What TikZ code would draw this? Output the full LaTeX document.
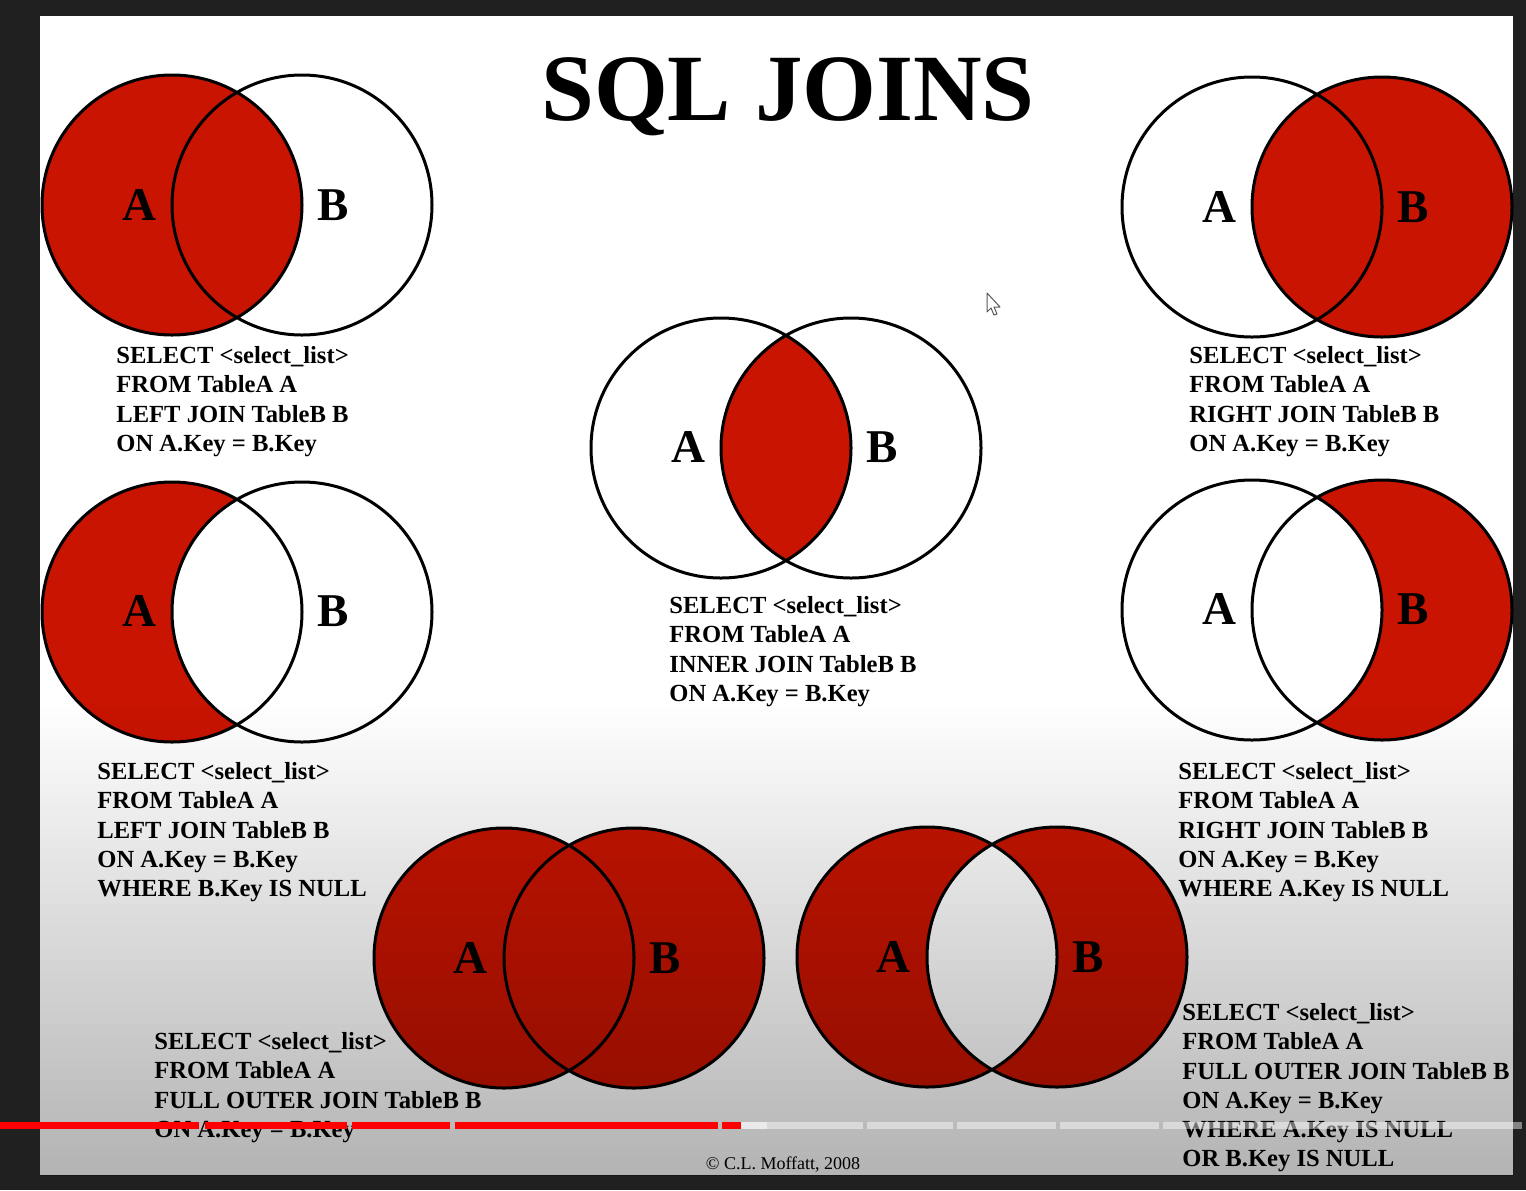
\documentclass[tikz,border=0pt]{standalone}
\usepackage{fontspec}
\setmainfont{Liberation Serif}
\usetikzlibrary{fadings}
\definecolor{jr}{RGB}{200,20,0}
\definecolor{outerbg}{RGB}{32,32,32}
\tikzfading[name=slidefade, top color=transparent!100, bottom color=transparent!70]
\tikzset{
  ring/.style={draw=black, line width=1.5pt},
  redfill/.style={fill=jr},
  setlabel/.style={font=\fontsize{23.5}{24}\selectfont\bfseries, inner sep=0pt},
  code/.style={font=\fontsize{12.3}{14.65}\selectfont\bfseries, align=left, anchor=north west, inner sep=0pt},
  barred/.style={fill=red},
  bargray/.style={fill=white, fill opacity=0.45}
}
\begin{document}
\begin{tikzpicture}[x=0.5pt, y=-0.5pt]
\useasboundingbox (0,0) rectangle (1526,1190);
\fill[outerbg] (0,0) rectangle (1526,1190);
\fill[white] (40,16) rectangle (1513,1175);

% title
\node[font=\fontsize{47.5}{50}\selectfont\bfseries, anchor=base, inner sep=0pt] (title) at (788,120) {SQL JOINS};

% 1 LEFT JOIN
\fill[redfill] (172,205) circle[radius=130];
\draw[ring] (172,205) circle[radius=130] (302,205) circle[radius=130];
\node[setlabel] (a1) at (139,205) {A};
\node[setlabel] (b1) at (333,205) {B};
\node[code] (q1) at (116,346) {SELECT <select\_list>\\FROM TableA A\\LEFT JOIN TableB B\\ON A.Key = B.Key};

% 2 RIGHT JOIN
\fill[redfill] (1382,207) circle[radius=130];
\draw[ring] (1252,207) circle[radius=130] (1382,207) circle[radius=130];
\node[setlabel] (a2) at (1219,207) {A};
\node[setlabel] (b2) at (1413,207) {B};
\node[code] (q2) at (1189,346) {SELECT <select\_list>\\FROM TableA A\\RIGHT JOIN TableB B\\ON A.Key = B.Key};

% 3 INNER JOIN
\begin{scope}
  \clip (721,448) circle[radius=130];
  \fill[redfill] (851,448) circle[radius=130];
\end{scope}
\draw[ring] (721,448) circle[radius=130] (851,448) circle[radius=130];
\node[setlabel] (a3) at (688,447) {A};
\node[setlabel] (b3) at (882,447) {B};
\node[code] (q3) at (669,596) {SELECT <select\_list>\\FROM TableA A\\INNER JOIN TableB B\\ON A.Key = B.Key};

% 4 LEFT JOIN excluding
\fill[redfill] (172,612) circle[radius=130];
\begin{scope}
  \clip (172,612) circle[radius=130];
  \fill[white] (302,612) circle[radius=130];
\end{scope}
\draw[ring] (172,612) circle[radius=130] (302,612) circle[radius=130];
\node[setlabel] (a4) at (139,611) {A};
\node[setlabel] (b4) at (333,611) {B};
\node[code] (q4) at (97,762) {SELECT <select\_list>\\FROM TableA A\\LEFT JOIN TableB B\\ON A.Key = B.Key\\WHERE B.Key IS NULL};

% 5 RIGHT JOIN excluding
\fill[redfill] (1382,610) circle[radius=130];
\begin{scope}
  \clip (1382,610) circle[radius=130];
  \fill[white] (1252,610) circle[radius=130];
\end{scope}
\draw[ring] (1252,610) circle[radius=130] (1382,610) circle[radius=130];
\node[setlabel] (a5) at (1219,609) {A};
\node[setlabel] (b5) at (1413,609) {B};
\node[code] (q5) at (1178,762) {SELECT <select\_list>\\FROM TableA A\\RIGHT JOIN TableB B\\ON A.Key = B.Key\\WHERE A.Key IS NULL};

% 6 FULL OUTER JOIN
\fill[redfill] (504,958) circle[radius=130] (634,958) circle[radius=130];
\draw[ring] (504,958) circle[radius=130] (634,958) circle[radius=130];
\node[setlabel] (a6) at (470,958) {A};
\node[setlabel] (b6) at (665,958) {B};
\node[code] (q6) at (154,1032) {SELECT <select\_list>\\FROM TableA A\\FULL OUTER JOIN TableB B\\ON A.Key = B.Key};

% 7 FULL OUTER JOIN excluding
\fill[redfill, even odd rule] (927,957) circle[radius=130] (1057,957) circle[radius=130];
\draw[ring] (927,957) circle[radius=130] (1057,957) circle[radius=130];
\node[setlabel] (a7) at (893,957) {A};
\node[setlabel] (b7) at (1088,957) {B};
\node[code] (q7) at (1182,1003) {SELECT <select\_list>\\FROM TableA A\\FULL OUTER JOIN TableB B\\ON A.Key = B.Key\\WHERE A.Key IS NULL\\OR B.Key IS NULL};

% copyright
\node[font=\fontsize{9}{10}\selectfont, inner sep=0pt] (copy) at (783,1165) {© C.L. Moffatt, 2008};

% bottom shading of the video frame
\begin{scope}
  \clip (40,16) rectangle (1513,1175);
  \fill[black, path fading=slidefade] (36,700) rectangle (1517,1179);
\end{scope}

% progress bar
\fill[barred] (0,1122) rectangle (199,1129);
\fill[barred] (205,1122) rectangle (347,1129);
\fill[barred] (352,1122) rectangle (450,1129);
\fill[barred] (455,1122) rectangle (718,1129);
\fill[barred] (722,1122) rectangle (741,1129);
\fill[white, fill opacity=0.7] (741,1122) rectangle (767,1129);
\fill[bargray] (767,1122) rectangle (863,1129);
\fill[bargray] (867,1122) rectangle (953,1129);
\fill[bargray] (957,1122) rectangle (1056,1129);
\fill[bargray] (1060,1122) rectangle (1159,1129);
\fill[bargray] (1163,1122) rectangle (1522,1129);

% mouse pointer
\draw[fill=white, draw=gray!70!black, line width=0.5pt, line join=round]
  (987,293) -- (987,312) -- (991,308) -- (994,315) -- (997,314) -- (994,307) -- (1000,307) -- cycle;
\end{tikzpicture}
\end{document}
